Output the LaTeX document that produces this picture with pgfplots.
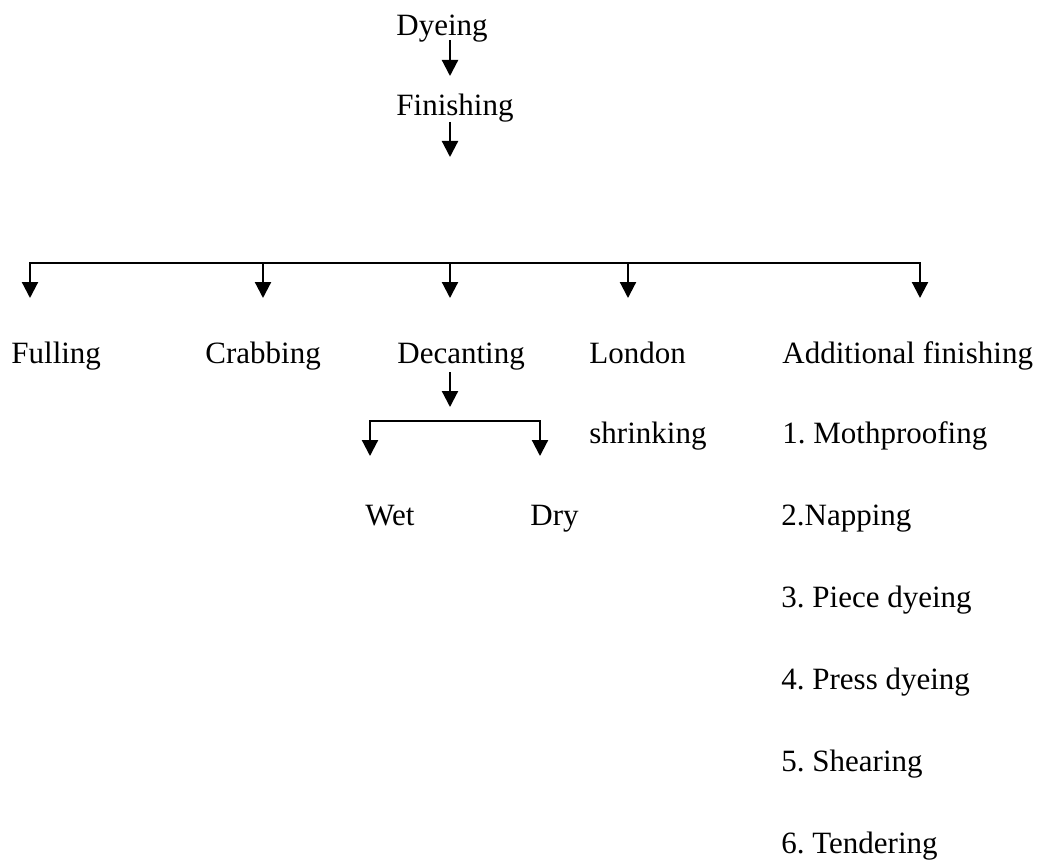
\documentclass[border=0pt]{standalone}
\usepackage{fontspec}
\setmainfont{Liberation Serif}
\usepackage{pgfplots}
\pgfplotsset{compat=1.18}
\usetikzlibrary{arrows.meta}
\frenchspacing
\tikzset{
  arr/.style={-{Triangle[width=8pt,length=8pt]}, line cap=butt},
  lbl/.style={anchor=base west, inner sep=0pt, font=\fontsize{15.5}{18}\selectfont}}
\begin{document}
\begin{tikzpicture}
\begin{axis}[hide axis, scale only axis, width=521pt, height=430.5pt,
  xmin=0, xmax=1042, ymin=0, ymax=861, y dir=reverse, clip=false,
  cycle list={{black, no marks}},
  every axis plot post/.append style={line width=1.1pt}]
\addplot[draw=none] coordinates {(0,0) (1042,861)};
% top arrows
\addplot+[arr] coordinates {(450,40) (450,76)};
\addplot+[arr] coordinates {(450,122) (450,157)};
% main bar
\addplot+[line cap=rect] coordinates {(30,263) (920,263)};
\addplot+[arr] coordinates {(30,263) (30,298)};
\addplot+[arr] coordinates {(263,263) (263,298)};
\addplot+[arr] coordinates {(450,263) (450,298)};
\addplot+[arr] coordinates {(628,263) (628,298)};
\addplot+[arr] coordinates {(920,263) (920,298)};
% decanting
\addplot+[arr] coordinates {(450,372) (450,407)};
\addplot+[line cap=rect] coordinates {(370,421) (540,421)};
\addplot+[arr] coordinates {(370,421) (370,456)};
\addplot+[arr] coordinates {(540,421) (540,456)};
% labels
\node[lbl] at (axis cs:396,36) {Dyeing};
\node[lbl] at (axis cs:396,116) {Finishing};
\node[lbl] at (axis cs:11,363) {Fulling};
\node[lbl] at (axis cs:205,363) {Crabbing};
\node[lbl] at (axis cs:397,363) {Decanting};
\node[lbl] at (axis cs:589,363) {London};
\node[lbl] at (axis cs:782,363) {Additional finishing};
\node[lbl] at (axis cs:589,443) {shrinking};
\node[lbl] at (axis cs:782,443) {1. Mothproofing};
\node[lbl] at (axis cs:365,525) {Wet};
\node[lbl] at (axis cs:530,525) {Dry};
\node[lbl] at (axis cs:781,525) {2.Napping};
\node[lbl] at (axis cs:781,607) {3. Piece dyeing};
\node[lbl] at (axis cs:781,689) {4. Press dyeing};
\node[lbl] at (axis cs:781,771) {5. Shearing};
\node[lbl] at (axis cs:781,853) {6. Tendering};
\end{axis}
\end{tikzpicture}
\end{document}
